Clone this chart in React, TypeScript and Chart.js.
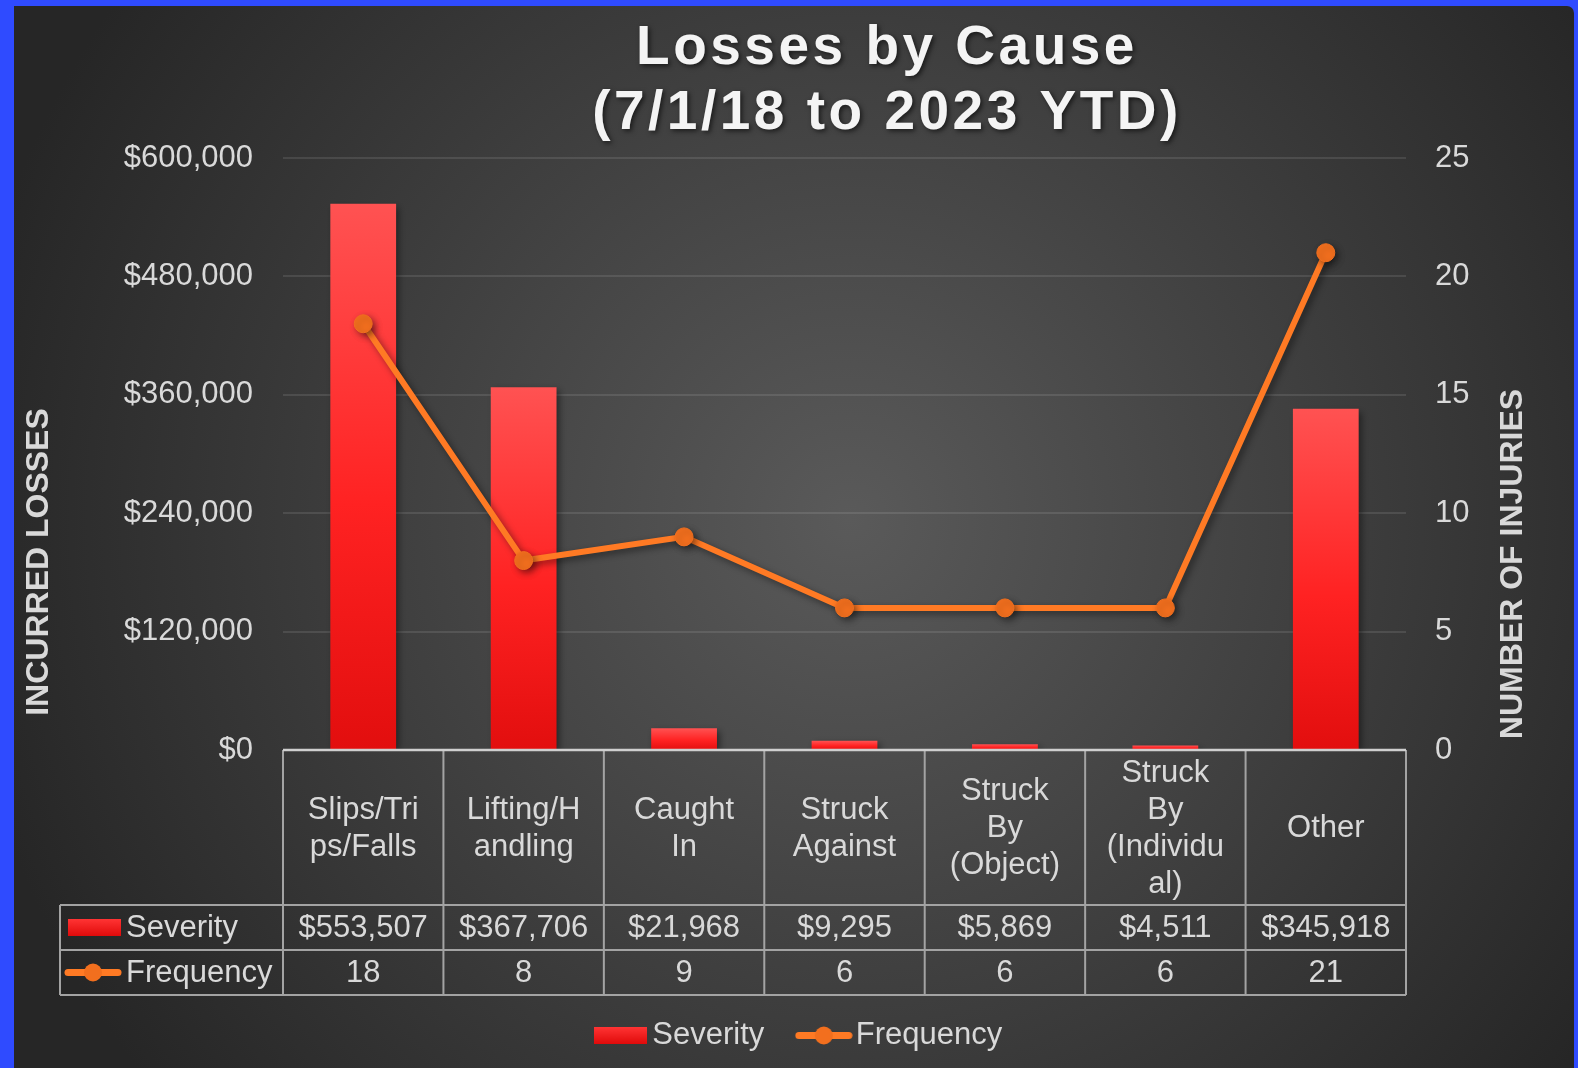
import React, { useEffect, useRef } from 'react';
import { Chart, registerables } from 'chart.js';

Chart.register(...registerables);

// ---------- data ----------
const categories = [
  'Slips/Trips/Falls',
  'Lifting/Handling',
  'Caught In',
  'Struck Against',
  'Struck By (Object)',
  'Struck By (Individual)',
  'Other',
];
const categoryLines = [
  ['Slips/Tri', 'ps/Falls'],
  ['Lifting/H', 'andling'],
  ['Caught', 'In'],
  ['Struck', 'Against'],
  ['Struck', 'By', '(Object)'],
  ['Struck', 'By', '(Individu', 'al)'],
  ['Other'],
];
const severity = [553507, 367706, 21968, 9295, 5869, 4511, 345918];
const frequency = [18, 8, 9, 6, 6, 6, 21];
const seriesNames = ['Severity', 'Frequency'];
const titleLines = ['Losses by Cause', '(7/1/18 to 2023 YTD)'];
const leftAxisTitle = 'INCURRED LOSSES';
const rightAxisTitle = 'NUMBER OF INJURIES';
const leftAxisRange = [0, 600000, 120000];
const rightAxisRange = [0, 25, 5];

// ---------- styles ----------
const FONT = "'Liberation Sans', Arial, sans-serif";
const TEXT = '#d9d9d9';
const LINE_COLOR = '#ff7a24';
const MARKER_COLOR = '#f26f1e';
const TABLE_LINE = '#a3a3a3';
const FONT_SIZE = 31;

const money = (v: number) => '$' + Number(v).toLocaleString('en-US');

function makeSevSymbol() {
  const c = document.createElement('canvas');
  c.width = 53;
  c.height = 17;
  const g = c.getContext('2d')!;
  const gr = g.createLinearGradient(0, 0, 0, 17);
  gr.addColorStop(0, '#ff3434');
  gr.addColorStop(1, '#e00a0a');
  g.fillStyle = gr;
  g.fillRect(0, 0, 53, 17);
  return c;
}

function makeFreqSymbol() {
  const c = document.createElement('canvas');
  c.width = 58;
  c.height = 21;
  const g = c.getContext('2d')!;
  g.strokeStyle = LINE_COLOR;
  g.lineWidth = 7;
  g.lineCap = 'round';
  g.beginPath();
  g.moveTo(4, 10.5);
  g.lineTo(54, 10.5);
  g.stroke();
  g.fillStyle = MARKER_COLOR;
  g.beginPath();
  g.arc(29, 10.5, 9, 0, Math.PI * 2);
  g.fill();
  return c;
}

function barGradient(context: any) {
  const chart = context.chart;
  const scales = chart.scales;
  if (!chart.chartArea || !scales || !scales.y || context.type !== 'data') return '#ff2a2a';
  const yTop = scales.y.getPixelForValue(context.raw);
  const yBot = scales.y.getPixelForValue(0);
  if (!isFinite(yTop) || !isFinite(yBot) || yBot - yTop < 1) return '#ff4a4a';
  const g = chart.ctx.createLinearGradient(0, yTop, 0, yBot);
  g.addColorStop(0, '#ff5252');
  g.addColorStop(0.55, '#ff2222');
  g.addColorStop(1, '#e20e0e');
  return g;
}

function makeDecorPlugin(sevSym: HTMLCanvasElement, freqSym: HTMLCanvasElement) {
  return {
    id: 'decor',
    beforeDraw(chart: any) {
      const ctx = chart.ctx;
      const W = chart.width;
      const H = chart.height;
      ctx.save();
      ctx.fillStyle = '#2F4BFF';
      ctx.fillRect(0, 0, W, H);
      const g = ctx.createRadialGradient(850, 520, 0, 850, 520, 900);
      g.addColorStop(0, '#5a5a5a');
      g.addColorStop(1, '#262626');
      ctx.fillStyle = g;
      ctx.beginPath();
      ctx.roundRect(14, 6, W - 14 - 4, H - 6 + 20, [0, 7, 0, 0]);
      ctx.fill();
      ctx.restore();
    },
    beforeDatasetDraw(chart: any) {
      const ctx = chart.ctx;
      ctx.save();
      ctx.shadowColor = 'rgba(0,0,0,0.45)';
      ctx.shadowBlur = 7;
      ctx.shadowOffsetX = 3;
      ctx.shadowOffsetY = 3;
    },
    afterDatasetDraw(chart: any) {
      chart.ctx.restore();
    },
    afterDraw(chart: any) {
      const ctx = chart.ctx;
      const xs = chart.scales.x;
      const ys = chart.scales.y;
      const area = chart.chartArea;
      const n = categories.length;

      // ----- title -----
      ctx.save();
      ctx.font = `bold 55px ${FONT}`;
      (ctx as any).letterSpacing = '3.5px';
      ctx.fillStyle = '#f4f4f4';
      ctx.textAlign = 'center';
      ctx.textBaseline = 'alphabetic';
      ctx.shadowColor = 'rgba(0,0,0,0.6)';
      ctx.shadowBlur = 5;
      ctx.shadowOffsetX = 2;
      ctx.shadowOffsetY = 2;
      ctx.fillText(titleLines[0], 887, 64);
      ctx.fillText(titleLines[1], 887, 129);
      ctx.restore();

      // ----- axis titles -----
      ctx.save();
      ctx.font = `bold 32px ${FONT}`;
      ctx.fillStyle = TEXT;
      ctx.textAlign = 'center';
      ctx.textBaseline = 'middle';
      ctx.translate(39, 562);
      ctx.rotate(-Math.PI / 2);
      ctx.fillText(leftAxisTitle, 0, 0);
      ctx.restore();
      ctx.save();
      ctx.font = `bold 32px ${FONT}`;
      ctx.fillStyle = TEXT;
      ctx.textAlign = 'center';
      ctx.textBaseline = 'middle';
      ctx.translate(1513, 564);
      ctx.rotate(-Math.PI / 2);
      ctx.fillText(rightAxisTitle, 0, 0);
      ctx.restore();

      // ----- data table -----
      const axisY = ys.getPixelForValue(0);
      const headerBottom = axisY + 155;
      const rowH = 45;
      const tableBottom = headerBottom + rowH * 2;
      const legendLeft = 60;
      const bounds: number[] = [area.left];
      for (let i = 1; i < n; i++) bounds.push((xs.getPixelForValue(i - 1) + xs.getPixelForValue(i)) / 2);
      bounds.push(area.right);

      ctx.save();
      ctx.strokeStyle = TABLE_LINE;
      ctx.lineWidth = 2;
      ctx.beginPath();
      for (const bx of bounds) {
        ctx.moveTo(bx, axisY);
        ctx.lineTo(bx, tableBottom);
      }
      ctx.moveTo(legendLeft, headerBottom);
      ctx.lineTo(legendLeft, tableBottom);
      for (const yy of [headerBottom, headerBottom + rowH, tableBottom]) {
        ctx.moveTo(legendLeft, yy);
        ctx.lineTo(area.right, yy);
      }
      ctx.stroke();
      // axis line
      ctx.strokeStyle = '#cfcfcf';
      ctx.lineWidth = 2.5;
      ctx.beginPath();
      ctx.moveTo(area.left, axisY);
      ctx.lineTo(area.right, axisY);
      ctx.stroke();

      ctx.fillStyle = TEXT;
      ctx.font = `${FONT_SIZE}px ${FONT}`;
      ctx.textAlign = 'center';
      ctx.textBaseline = 'middle';
      const lh = 37;
      const headCenter = (axisY + headerBottom) / 2;
      for (let i = 0; i < n; i++) {
        const cx = xs.getPixelForValue(i);
        const lines = categoryLines[i];
        const y0 = headCenter - ((lines.length - 1) * lh) / 2;
        lines.forEach((t, k) => ctx.fillText(t, cx, y0 + k * lh + 1));
        ctx.fillText(money(severity[i]), cx, headerBottom + rowH / 2 + 1);
        ctx.fillText(String(frequency[i]), cx, headerBottom + rowH * 1.5 + 1);
      }
      ctx.textAlign = 'left';
      const r1 = headerBottom + rowH / 2;
      const r2 = headerBottom + rowH * 1.5;
      ctx.drawImage(sevSym, 68, r1 - sevSym.height / 2);
      ctx.fillText(seriesNames[0], 126, r1 + 1);
      ctx.drawImage(freqSym, 64, r2 - freqSym.height / 2);
      ctx.fillText(seriesNames[1], 126, r2 + 1);
      ctx.restore();
    },
  };
}

export default function App() {
  const ref = useRef<HTMLCanvasElement>(null);

  useEffect(() => {
    document.body.style.margin = '0';
    const canvas = ref.current;
    if (!canvas) return;
    const sevSym = makeSevSymbol();
    const freqSym = makeFreqSymbol();
    const tickFont = { family: FONT, size: FONT_SIZE };
    const padLeft = 28;

    const chart = new Chart(canvas, {
      type: 'bar',
      data: {
        labels: categories,
        datasets: [
          {
            type: 'bar',
            label: seriesNames[0],
            data: severity,
            yAxisID: 'y',
            order: 1,
            backgroundColor: barGradient as any,
            borderWidth: 0,
            barPercentage: 0.41,
            categoryPercentage: 1,
          },
          {
            type: 'line',
            label: seriesNames[1],
            data: frequency,
            yAxisID: 'y1',
            order: 0,
            borderColor: LINE_COLOR,
            borderWidth: 6,
            pointRadius: 9,
            pointBackgroundColor: MARKER_COLOR,
            pointBorderColor: MARKER_COLOR,
            pointBorderWidth: 1,
            tension: 0,
            fill: false,
          } as any,
        ],
      },
      options: {
        responsive: false,
        animation: false,
        devicePixelRatio: 1,
        layout: { padding: { top: 158, left: padLeft, right: 0, bottom: 7 } },
        plugins: {
          title: { display: false },
          tooltip: { enabled: false },
          legend: {
            display: true,
            position: 'bottom',
            labels: {
              usePointStyle: true,
              pointStyleWidth: 33,
              padding: 43,
              color: TEXT,
              font: tickFont,
              generateLabels: () => [
                {
                  text: seriesNames[0],
                  pointStyle: sevSym as any,
                  fillStyle: 'transparent',
                  strokeStyle: 'transparent',
                  lineWidth: 0,
                  hidden: false,
                  datasetIndex: 0,
                  fontColor: TEXT,
                },
                {
                  text: seriesNames[1],
                  pointStyle: freqSym as any,
                  fillStyle: 'transparent',
                  strokeStyle: 'transparent',
                  lineWidth: 0,
                  hidden: false,
                  datasetIndex: 1,
                  fontColor: TEXT,
                },
              ],
            },
          },
        },
        scales: {
          x: {
            display: true,
            grid: { display: false },
            border: { display: false },
            ticks: { display: false },
            afterFit: (s: any) => {
              s.height = 227;
            },
          },
          y: {
            position: 'left',
            min: leftAxisRange[0],
            max: leftAxisRange[1],
            ticks: {
              stepSize: leftAxisRange[2],
              padding: 30,
              color: TEXT,
              font: tickFont,
              callback: (v: any) => money(Number(v)),
            },
            grid: { color: 'rgba(255,255,255,0.1)', lineWidth: 2, drawTicks: false },
            border: { display: false },
            afterFit: (s: any) => {
              s.width = 283 - padLeft;
            },
          },
          y1: {
            position: 'right',
            min: rightAxisRange[0],
            max: rightAxisRange[1],
            ticks: {
              stepSize: rightAxisRange[2],
              padding: 29,
              color: TEXT,
              font: tickFont,
            },
            grid: { display: false, drawTicks: false },
            border: { display: false },
            afterFit: (s: any) => {
              s.width = 172;
            },
          },
        },
      } as any,
      plugins: [makeDecorPlugin(sevSym, freqSym)],
    });

    return () => chart.destroy();
  }, []);

  return (
    <div style={{ width: 1578, height: 1068, overflow: 'hidden' }}>
      <canvas ref={ref} width={1578} height={1068} style={{ display: 'block', width: 1578, height: 1068 }} />
    </div>
  );
}
